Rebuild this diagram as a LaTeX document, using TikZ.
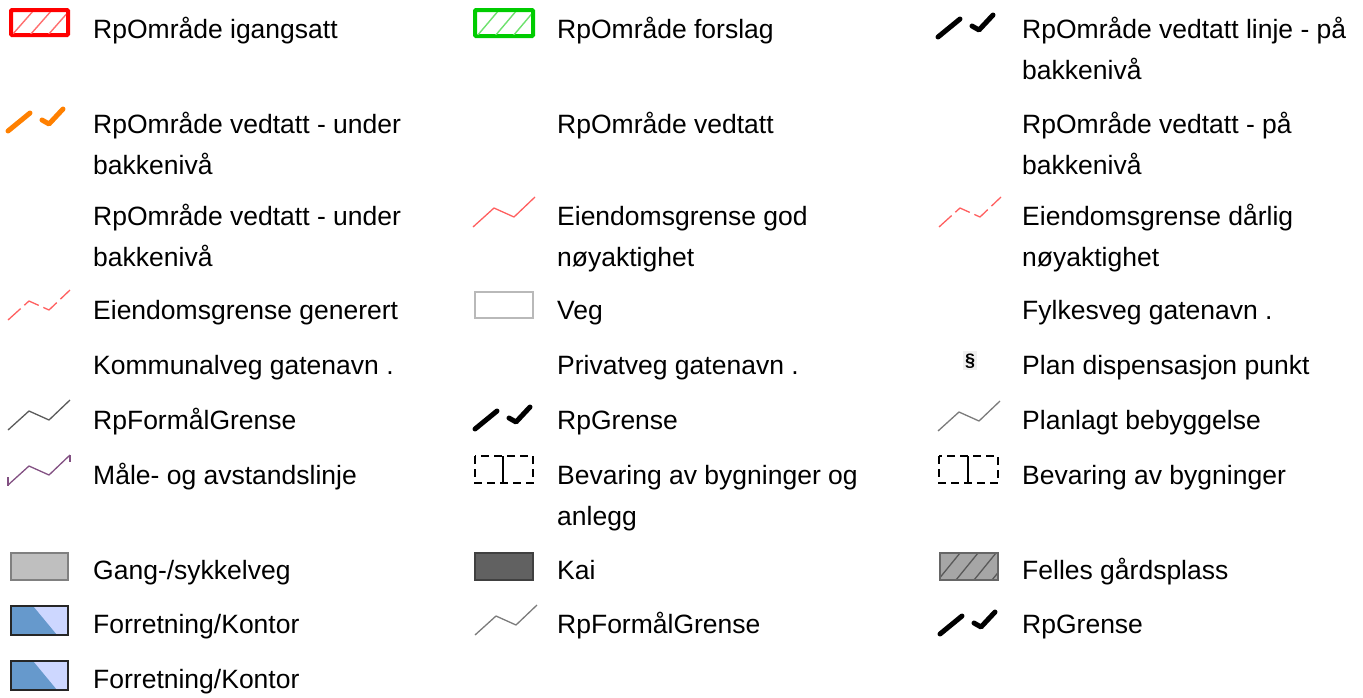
\documentclass[tikz,border=0pt]{standalone}
\usepackage{fontspec}
\setmainfont{Liberation Sans}
\definecolor{rpred}{RGB}{255,0,0}
\definecolor{rphatchred}{RGB}{255,110,110}
\definecolor{rpgreen}{RGB}{0,204,0}
\definecolor{rphatchgreen}{RGB}{110,225,110}
\definecolor{rporange}{RGB}{255,128,0}
\definecolor{eiendom}{RGB}{255,95,95}
\definecolor{formaal}{RGB}{90,90,90}
\definecolor{maale}{RGB}{130,80,130}
\definecolor{kontordark}{RGB}{102,153,204}
\definecolor{kontorlight}{RGB}{205,215,255}

% slash + check mark, origin at left end
\newcommand{\grensemark}[3]{%
  \draw[grense,#3] (#1,#2) ++(0,9) -- ++(22,-18);
  \draw[grense,#3] (#1,#2) ++(34,-2) -- ++(7,4) -- ++(14,-15);
}
% broken line, origin at lower left
\newcommand{\zigzag}[3]{%
  \draw[zigline,#3] (#1,#2) -- ++(21,-19) -- ++(20,9) -- ++(21,-20);
}

\begin{document}
\begin{tikzpicture}[x=1pt,y=-1pt,
  lbl/.style={anchor=base west,align=left,inner sep=0pt,
    font=\fontsize{26.5}{40.5}\selectfont},
  grense/.style={line width=5pt,line cap=round,line join=round},
  zigline/.style={line width=1.3pt,line join=round}]
  \useasboundingbox (0,0) rectangle (1363,697);

  % row 1
  \draw[rpred,line width=4pt,rounded corners=1pt] (11,10) rectangle (68,35);
  \begin{scope}
    \clip (13,12) rectangle (66,33);
    \foreach \h in {12,30,48}
      \draw[rphatchred,line width=1.4pt] (\h,35) -- ++(22,-25);
  \end{scope}
  \node[lbl] (igangsatt) at (93,38) {RpOmråde igangsatt};

  \draw[rpgreen,line width=4pt,rounded corners=1pt] (475,10) rectangle (533,36);
  \begin{scope}
    \clip (477,12) rectangle (531,34);
    \foreach \h in {477,495,513}
      \draw[rphatchgreen,line width=1.4pt] (\h,36) -- ++(22,-26);
  \end{scope}
  \node[lbl] (forslag) at (557,38) {RpOmråde forslag};

  \grensemark{938}{28}{black}
  \node[lbl] (vedtattlinje) at (1022,79) {RpOmråde vedtatt linje - på\\bakkenivå};

  % row 2
  \grensemark{8}{122}{rporange}
  \node[lbl] (underbakke) at (93,174) {RpOmråde vedtatt - under\\bakkenivå};
  \node[lbl] (vedtatt) at (557,133) {RpOmråde vedtatt};
  \node[lbl] (paabakke) at (1022,174) {RpOmråde vedtatt - på\\bakkenivå};

  % row 3
  \node[lbl] (underbakkeb) at (93,266) {RpOmråde vedtatt - under\\bakkenivå};
  \zigzag{473}{227}{eiendom}
  \node[lbl] (godnoy) at (557,266) {Eiendomsgrense god\\nøyaktighet};
  \zigzag{939}{227}{eiendom,dash pattern=on 17pt off 5pt}
  \node[lbl] (daarlignoy) at (1022,266) {Eiendomsgrense dårlig\\nøyaktighet};

  % row 4
  \zigzag{8}{320}{eiendom,dash pattern=on 17pt off 5pt}
  \node[lbl] (generert) at (93,319) {Eiendomsgrense generert};
  \draw[gray!55,line width=1.5pt] (475,292) rectangle (533,318);
  \node[lbl] (veg) at (557,319) {Veg};
  \node[lbl] (fylkesveg) at (1022,319) {Fylkesveg gatenavn .};

  % row 5
  \node[lbl] (kommunalveg) at (93,374) {Kommunalveg gatenavn .};
  \node[lbl] (privatveg) at (557,374) {Privatveg gatenavn .};
  \fill[gray!12] (963,351) rectangle (977,370);
  \node[font=\fontsize{18}{18}\selectfont\bfseries,inner sep=0pt] (dispsym) at (970,361) {\S};
  \node[lbl] (dispensasjon) at (1022,374) {Plan dispensasjon punkt};

  % row 6
  \zigzag{8}{430}{formaal}
  \node[lbl] (formaalgrense) at (93,429) {RpFormålGrense};
  \grensemark{475}{420}{black}
  \node[lbl] (rpgrense) at (557,429) {RpGrense};
  \zigzag{938}{431}{formaal!80}
  \node[lbl] (bebyggelse) at (1022,429) {Planlagt bebyggelse};

  % row 7
  \zigzag{8}{485}{maale}
  \draw[maale,line width=1.3pt] (8,477) -- (8,486) (70,455) -- (70,462);
  \node[lbl] (maalelinje) at (93,484) {Måle- og avstandslinje};
  \draw[line width=1.3pt,dash pattern=on 8pt off 5pt] (475,456) rectangle (533,483);
  \draw[line width=1.3pt] (503,456) -- (503,483);
  \node[lbl] (bevaringanlegg) at (557,525) {Bevaring av bygninger og\\anlegg};
  \draw[line width=1.3pt,dash pattern=on 8pt off 5pt] (939,456) rectangle (998,483);
  \draw[line width=1.3pt] (968,456) -- (968,483);
  \node[lbl] (bevaring) at (1022,484) {Bevaring av bygninger};

  % row 8
  \draw[fill=black!25,draw=black!50,line width=1.2pt] (11,553) rectangle (68,580);
  \node[lbl] (gangsykkel) at (93,579) {Gang-/sykkelveg};
  \draw[fill=black!62,draw=black!75,line width=1.2pt] (475,553) rectangle (533,580);
  \node[lbl] (kai) at (557,579) {Kai};
  \fill[black!35] (940,553) rectangle (998,580);
  \begin{scope}
    \clip (940,553) rectangle (998,580);
    \foreach \h in {938,956,974,992}
      \draw[black!65,line width=1.3pt] (\h,580) -- ++(22,-27);
  \end{scope}
  \draw[black!60,line width=1.2pt] (940,553) rectangle (998,580);
  \node[lbl] (gaardsplass) at (1022,579) {Felles gårdsplass};

  % row 9
  \fill[kontorlight] (11,606) rectangle (68,635);
  \fill[kontordark] (11,606) -- (33,606) -- (57,635) -- (11,635) -- cycle;
  \draw[black!85,line width=1.4pt] (11,606) rectangle (68,635);
  \node[lbl] (kontor) at (93,633) {Forretning/Kontor};
  \zigzag{475}{635}{formaal!80}
  \node[lbl] (formaalgrenseb) at (557,633) {RpFormålGrense};
  \grensemark{940}{625}{black}
  \node[lbl] (rpgrenseb) at (1022,633) {RpGrense};

  % row 10
  \fill[kontorlight] (11,661) rectangle (68,690);
  \fill[kontordark] (11,661) -- (33,661) -- (57,690) -- (11,690) -- cycle;
  \draw[black!85,line width=1.4pt] (11,661) rectangle (68,690);
  \node[lbl] (kontorb) at (93,688) {Forretning/Kontor};
\end{tikzpicture}
\end{document}
